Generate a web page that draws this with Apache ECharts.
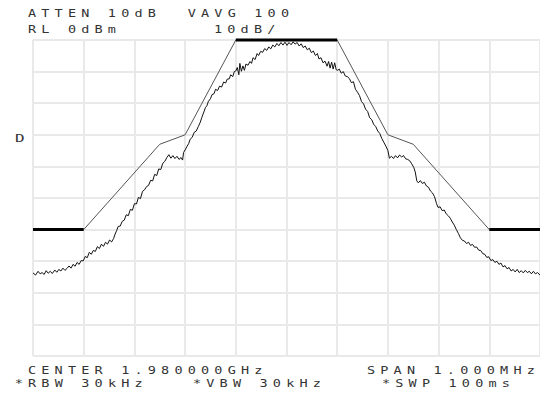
<!DOCTYPE html>
<html>
<head>
<meta charset="utf-8">
<script src="https://cdn.jsdelivr.net/npm/echarts@6/dist/echarts.min.js"></script>
<style>
html,body{margin:0;padding:0;background:#fff;}
#chart{width:540px;height:397px;}
#chart svg text{letter-spacing:3.85px;}
</style>
</head>
<body>
<div id="chart"></div>
<script>
// Measured trace: [frequency offset from centre (kHz), level (dBm)]
var tracePoints = [
[-500,-73.7],[-495,-74.4],[-490,-73.2],[-486,-74.0],[-482,-73.6],[-478,-74.2],[-474,-73.0],[-470,-73.8],[-466,-73.2],[-462,-73.9],
[-457,-72.8],[-453,-73.5],[-449,-72.6],[-445,-73.1],[-441,-72.2],[-437,-72.9],[-433,-72.3],[-429,-71.5],[-425,-72.2],[-421,-71.0],
[-417,-71.6],[-413,-70.4],[-409,-71.0],[-405,-69.8],[-401,-69.9],[-397,-68.5],[-393,-68.9],[-389,-67.2],[-385,-67.8],[-381,-66.6],
[-377,-66.9],[-373,-65.4],[-369,-66.0],[-365,-64.6],[-361,-65.3],[-357,-64.0],[-353,-64.6],[-349,-63.3],[-345,-63.9],[-341,-62.8],
[-338,-61.4],[-335,-60.3],[-332,-59.0],[-328,-58.9],[-324,-57.4],[-320,-57.0],[-316,-55.3],[-312,-55.6],[-308,-53.6],[-304,-53.9],
[-300,-51.8],[-296,-51.9],[-292,-49.8],[-288,-50.2],[-284,-47.9],[-280,-47.4],[-276,-46.4],[-272,-46.0],[-268,-44.4],[-264,-44.6],
[-260,-42.5],[-256,-42.9],[-252,-40.8],[-248,-41.0],[-244,-39.0],[-240,-38.4],[-236,-37.2],[-232,-36.3],[-228,-37.4],[-224,-36.6],
[-220,-37.5],[-216,-36.8],[-212,-37.8],[-208,-37.2],[-205,-38.0],[-203,-35.6],[-200,-34.8],[-196,-33.6],[-193,-32.8],[-190,-31.4],
[-186,-30.8],[-182,-29.2],[-178,-28.8],[-174,-27.4],[-170,-26.0],[-167,-24.5],[-163,-22.8],[-160,-21.4],[-157,-20.8],[-154,-19.4],
[-150,-18.6],[-147,-17.3],[-143,-17.0],[-140,-15.6],[-136,-16.0],[-132,-14.6],[-128,-14.9],[-124,-13.3],[-120,-13.6],[-117,-12.4],
[-113,-12.3],[-110,-11.0],[-106,-11.6],[-103,-10.0],[-100,-9.8],[-97,-8.7],[-94,-11.0],[-92,-7.4],[-89,-9.9],[-86,-8.2],
[-83,-9.6],[-80,-7.6],[-76,-8.0],[-72,-6.8],[-69,-7.4],[-66,-5.6],[-62,-6.2],[-58,-4.3],[-55,-4.9],[-51,-3.6],
[-47,-3.9],[-43,-2.7],[-39,-3.3],[-35,-2.2],[-31,-2.8],[-27,-1.6],[-23,-2.2],[-19,-1.1],[-15,-1.8],[-11,-0.8],
[-7,-1.6],[-3,-0.7],[1,-1.7],[5,-0.8],[9,-1.5],[13,-0.6],[17,-1.3],[21,-0.8],[25,-1.9],[29,-1.2],
[33,-2.4],[37,-1.9],[41,-3.1],[45,-2.6],[49,-4.0],[53,-3.5],[57,-4.9],[61,-4.3],[64,-6.0],[68,-5.6],
[72,-7.2],[76,-6.7],[80,-8.3],[83,-6.8],[86,-8.9],[89,-7.0],[92,-9.2],[95,-7.2],[98,-9.4],[101,-9.6],
[104,-9.2],[108,-10.5],[112,-10.0],[116,-11.4],[120,-11.6],[124,-12.2],[128,-13.5],[132,-13.2],[136,-15.6],[140,-16.5],
[144,-17.6],[148,-19.5],[152,-20.2],[156,-21.9],[160,-22.6],[164,-24.6],[168,-25.2],[172,-26.7],[176,-27.4],[180,-28.8],
[184,-29.6],[188,-31.2],[192,-32.4],[196,-33.6],[200,-35.0],[203,-37.4],[207,-36.8],[211,-37.5],[215,-36.6],[219,-37.3],
[223,-36.4],[227,-37.0],[231,-36.6],[235,-37.6],[239,-37.8],[243,-38.2],[247,-39.2],[251,-40.3],[254,-41.8],[257,-44.6],
[260,-45.2],[264,-44.5],[268,-45.4],[272,-45.0],[276,-46.2],[280,-46.6],[284,-47.8],[288,-48.4],[292,-49.6],[296,-51.8],
[299,-53.0],[303,-52.8],[307,-54.0],[311,-53.8],[315,-55.0],[319,-55.6],[323,-56.4],[327,-57.6],[331,-58.6],[335,-60.0],
[339,-61.2],[343,-62.6],[347,-63.4],[351,-63.6],[355,-64.4],[359,-64.0],[363,-65.0],[367,-64.7],[371,-65.6],[375,-65.5],
[379,-66.5],[383,-66.6],[387,-67.6],[391,-67.8],[395,-68.8],[399,-68.6],[403,-69.8],[407,-69.5],[411,-70.4],[415,-70.0],
[419,-71.0],[423,-70.6],[427,-71.8],[431,-71.4],[435,-72.4],[439,-72.0],[443,-73.1],[447,-72.6],[451,-73.4],[455,-72.6],
[459,-73.6],[463,-73.0],[467,-73.7],[471,-72.9],[475,-73.6],[479,-73.2],[483,-74.0],[487,-73.2],[491,-74.0],[495,-73.6],
[500,-74.4]
];
// Spectrum mask (limit line)
var maskFreqKHz = [-500,-400,-250,-200,-100,100,200,250,400,500];
var maskLevelDbm = [-60,-60,-33,-30,0,0,-30,-33,-60,-60];
var maskFlatFreqKHz = [[-500,-400],[-100,100],[400,500]];
var maskFlatLevelDbm = [-60,0,-60];
// Axes
var freqMin = -500, freqMax = 500, freqStep = 100;
var levelMin = -100, levelMax = 0, levelStep = 10;
// Annotation texts
var headerLine1 = 'ATTEN 10dB  VAVG 100';
var headerLine2 = 'RL 0dBm';
var scaleText = '10dB/';
var displayLineText = 'D';
var centerText = 'CENTER 1.980000GHz';
var spanText = 'SPAN 1.000MHz';
var rbwText = '*RBW 30kHz';
var vbwText = '*VBW 30kHz';
var swpText = '*SWP 100ms';

function zip(xs, ys){ return xs.map(function(x,i){ return [x, ys[i]]; }); }

var series = [];
series.push({type:'line', data: zip(maskFreqKHz, maskLevelDbm), showSymbol:false, clip:false,
  lineStyle:{color:'#555', width:1}, z:3});
maskFlatFreqKHz.forEach(function(seg, i){
  series.push({type:'line', data: seg.map(function(f){ return [f, maskFlatLevelDbm[i]]; }),
    showSymbol:false, clip:false, lineStyle:{color:'#000', width:3}, z:4});
});
series.push({type:'line', data: tracePoints, showSymbol:false,
  lineStyle:{color:'#111', width:1}, z:5});

var font = '10px "DejaVu Sans Mono"';
function txt(s, x, y, sx){
  return {type:'text', x:x, y:y, scaleX:sx || 1.35, silent:true,
    style:{text:s, font:font, fill:'#333', align:'left', verticalAlign:'middle'}};
}

var chart = echarts.init(document.getElementById('chart'), null, {renderer:'svg'});
chart.setOption({
  animation:false,
  backgroundColor:'#fff',
  grid:{left:33, top:40, width:507, height:316, containLabel:false},
  xAxis:{type:'value', min:freqMin, max:freqMax, interval:freqStep,
    axisLine:{show:false}, axisTick:{show:false}, axisLabel:{show:false},
    splitLine:{show:true, lineStyle:{color:'#e9e9e9', width:2}}},
  yAxis:{type:'value', min:levelMin, max:levelMax, interval:levelStep,
    axisLine:{show:false}, axisTick:{show:false}, axisLabel:{show:false},
    splitLine:{show:true, lineStyle:{color:'#e9e9e9', width:2}}},
  series: series,
  graphic:[
    txt(headerLine1, 28, 13.5),
    txt(headerLine2, 28, 30),
    txt(scaleText, 214, 30),
    txt(displayLineText, 15, 139, 1.6),
    txt(centerText, 28, 371),
    txt(spanText, 367, 371),
    txt(rbwText, 14.7, 383.5),
    txt(vbwText, 193, 383.5),
    txt(swpText, 382, 383.5)
  ]
});
</script>
</body>
</html>
